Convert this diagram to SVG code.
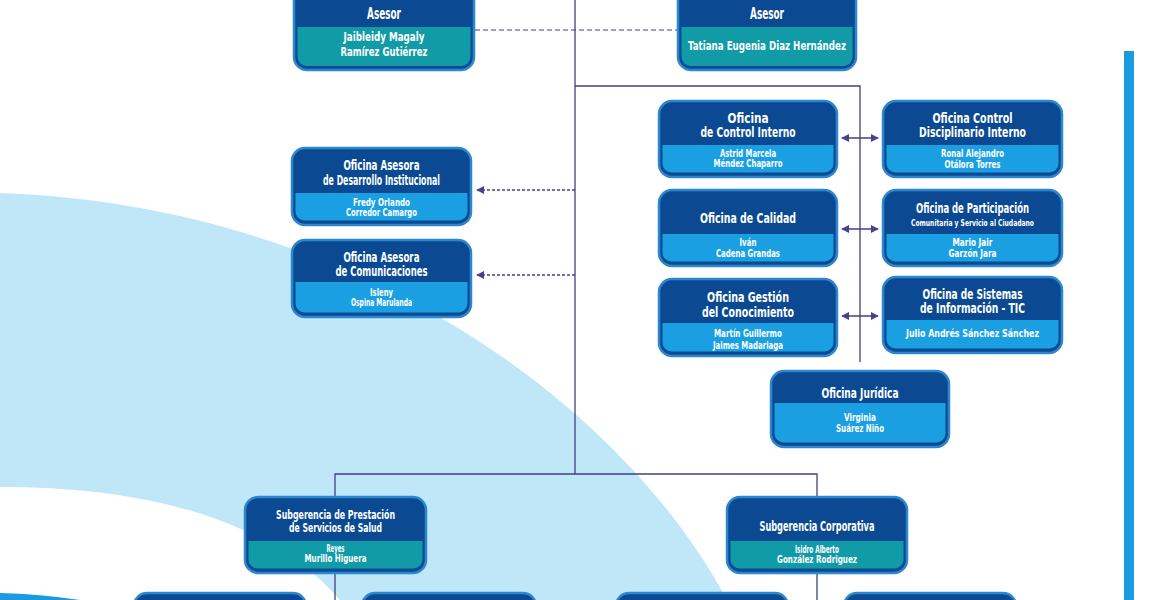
<svg xmlns="http://www.w3.org/2000/svg" width="1160" height="600" viewBox="0 0 1160 600">
<defs>
<style>
.box{fill:#0b4a92;stroke:#2b88cf;stroke-width:2.5}
.bl{fill:#1aa0e2}
.tl{fill:#109ba7}
text{font-family:"Liberation Sans Narrow","DejaVu Sans Condensed","Liberation Sans",sans-serif;font-weight:bold;fill:#ffffff;text-anchor:middle}
.h{font-size:14px}
.hs{font-size:12.5px}
.ha{font-size:15px}
.n{font-size:10.5px}
.na{font-size:11.5px}
.s{font-size:8.5px}
.c{fill:none;stroke:#3f4380;stroke-width:1.3}
.d{fill:none;stroke:#4a3f88;stroke-width:1.3;stroke-dasharray:3 2}
.d2{fill:none;stroke:#3f4380;stroke-width:1.2;stroke-dasharray:5 3}
</style>
<marker id="ah" viewBox="0 0 10 10" refX="9" refY="5" markerWidth="8" markerHeight="8" markerUnits="userSpaceOnUse" orient="auto-start-reverse">
<path d="M0,0 L10,5 L0,10 Z" fill="#4b3f8e"/>
</marker>
</defs>
<rect width="1160" height="600" fill="#ffffff"/>
<g id="background">
<path d="M0 193 C350 205 620 400 727 600 L340 600 C270 520 150 487 0 487 Z" fill="#c0e7f7"/>
<path d="M0 593 Q40 594 80 600 L0 600 Z" fill="#1a9be0"/>
<rect x="1124" y="51" width="10" height="549" fill="#1a9be0"/>
</g>
<g id="connectors">
<line class="c" x1="575" y1="0" x2="575" y2="474"/>
<line class="d2" x1="475" y1="30" x2="677" y2="30"/>
<polyline class="c" points="575,86 860,86 860,362"/>
<line class="c" x1="842" y1="138" x2="878" y2="138" marker-start="url(#ah)" marker-end="url(#ah)"/>
<line class="c" x1="842" y1="229" x2="878" y2="229" marker-start="url(#ah)" marker-end="url(#ah)"/>
<line class="c" x1="842" y1="316" x2="878" y2="316" marker-start="url(#ah)" marker-end="url(#ah)"/>
<line class="d" x1="575" y1="190" x2="477" y2="190" marker-end="url(#ah)"/>
<line class="d" x1="575" y1="275" x2="477" y2="275" marker-end="url(#ah)"/>
<polyline class="c" points="335,497 335,474 817,474 817,497"/>
<line class="c" x1="335" y1="573" x2="335" y2="600"/>
<line class="c" x1="817" y1="573" x2="817" y2="600"/>
</g>
<g id="asesor-1">
<rect class="box" x="294" y="-20" width="180" height="90" rx="13"/>
<path class="tl" d="M297.5 27 H470.5 V57 A9 9 0 0 1 461.5 66 H306.5 A9 9 0 0 1 297.5 57 Z"/>
<text class="ha" x="384" y="19.4" textLength="34" lengthAdjust="spacingAndGlyphs">Asesor</text>
<text class="na" x="384" y="41.1" textLength="81" lengthAdjust="spacingAndGlyphs">Jaibleidy Magaly</text>
<text class="na" x="384" y="56.1" textLength="87" lengthAdjust="spacingAndGlyphs">Ramírez Gutiérrez</text>
</g>
<g id="asesor-2">
<rect class="box" x="678" y="-20" width="178" height="90" rx="13"/>
<path class="tl" d="M681.5 27 H852.5 V57 A9 9 0 0 1 843.5 66 H690.5 A9 9 0 0 1 681.5 57 Z"/>
<text class="ha" x="767" y="19.4" textLength="34" lengthAdjust="spacingAndGlyphs">Asesor</text>
<text class="na" x="767" y="50.1" textLength="158" lengthAdjust="spacingAndGlyphs">Tatiana Eugenia Diaz Hernández</text>
</g>
<g id="control-interno">
<rect class="box" x="659" y="101" width="178" height="76" rx="13"/>
<path class="bl" d="M662.5 145 H833.5 V163.5 A9 9 0 0 1 824.5 172.5 H671.5 A9 9 0 0 1 662.5 163.5 Z"/>
<text class="h" x="748" y="123" textLength="41" lengthAdjust="spacingAndGlyphs">Oficina</text>
<text class="h" x="748" y="137" textLength="95" lengthAdjust="spacingAndGlyphs">de Control Interno</text>
<text class="n" x="748" y="156.8" textLength="56" lengthAdjust="spacingAndGlyphs">Astrid Marcela</text>
<text class="n" x="748" y="166.8" textLength="69" lengthAdjust="spacingAndGlyphs">Méndez Chaparro</text>
</g>
<g id="control-disciplinario">
<rect class="box" x="883" y="101" width="179" height="76" rx="13"/>
<path class="bl" d="M886.5 145 H1058.5 V163.5 A9 9 0 0 1 1049.5 172.5 H895.5 A9 9 0 0 1 886.5 163.5 Z"/>
<text class="h" x="972.5" y="123" textLength="80" lengthAdjust="spacingAndGlyphs">Oficina Control</text>
<text class="h" x="972.5" y="137" textLength="107" lengthAdjust="spacingAndGlyphs">Disciplinario Interno</text>
<text class="n" x="972.5" y="156.8" textLength="63" lengthAdjust="spacingAndGlyphs">Ronal Alejandro</text>
<text class="n" x="972.5" y="167.5" textLength="56" lengthAdjust="spacingAndGlyphs">Otálora Torres</text>
</g>
<g id="calidad">
<rect class="box" x="659" y="190" width="178" height="76" rx="13"/>
<path class="bl" d="M662.5 234 H833.5 V252.5 A9 9 0 0 1 824.5 261.5 H671.5 A9 9 0 0 1 662.5 252.5 Z"/>
<text class="h" x="748" y="223" textLength="96" lengthAdjust="spacingAndGlyphs">Oficina de Calidad</text>
<text class="n" x="748" y="245.8" textLength="17" lengthAdjust="spacingAndGlyphs">Iván</text>
<text class="n" x="748" y="256.8" textLength="64" lengthAdjust="spacingAndGlyphs">Cadena Grandas</text>
</g>
<g id="participacion">
<rect class="box" x="883" y="190" width="179" height="76" rx="13"/>
<path class="bl" d="M886.5 234 H1058.5 V252.5 A9 9 0 0 1 1049.5 261.5 H895.5 A9 9 0 0 1 886.5 252.5 Z"/>
<text class="h" x="972.5" y="213" textLength="113" lengthAdjust="spacingAndGlyphs">Oficina de Participación</text>
<text class="s" x="972.5" y="226" textLength="123" lengthAdjust="spacingAndGlyphs">Comunitaria y Servicio al Ciudadano</text>
<text class="n" x="972.5" y="245.8" textLength="40" lengthAdjust="spacingAndGlyphs">Mario Jair</text>
<text class="n" x="972.5" y="256.8" textLength="48" lengthAdjust="spacingAndGlyphs">Garzón Jara</text>
</g>
<g id="gestion-conocimiento">
<rect class="box" x="659" y="279" width="178" height="77" rx="13"/>
<path class="bl" d="M662.5 323 H833.5 V342.5 A9 9 0 0 1 824.5 351.5 H671.5 A9 9 0 0 1 662.5 342.5 Z"/>
<text class="h" x="748" y="302" textLength="82" lengthAdjust="spacingAndGlyphs">Oficina Gestión</text>
<text class="h" x="748" y="317" textLength="92" lengthAdjust="spacingAndGlyphs">del Conocimiento</text>
<text class="n" x="748" y="336.8" textLength="68" lengthAdjust="spacingAndGlyphs">Martín Guillermo</text>
<text class="n" x="748" y="348.8" textLength="70" lengthAdjust="spacingAndGlyphs">Jaimes Madariaga</text>
</g>
<g id="sistemas">
<rect class="box" x="883" y="277" width="179" height="76" rx="13"/>
<path class="bl" d="M886.5 320 H1058.5 V339.5 A9 9 0 0 1 1049.5 348.5 H895.5 A9 9 0 0 1 886.5 339.5 Z"/>
<text class="h" x="972.5" y="299" textLength="100" lengthAdjust="spacingAndGlyphs">Oficina de Sistemas</text>
<text class="h" x="972.5" y="313" textLength="105" lengthAdjust="spacingAndGlyphs">de Información - TIC</text>
<text class="n" x="972.5" y="336.8" textLength="133" lengthAdjust="spacingAndGlyphs">Julio Andrés Sánchez Sánchez</text>
</g>
<g id="juridica">
<rect class="box" x="771" y="371" width="178" height="76" rx="13"/>
<path class="bl" d="M774.5 403 H945.5 V433.5 A9 9 0 0 1 936.5 442.5 H783.5 A9 9 0 0 1 774.5 433.5 Z"/>
<text class="h" x="860" y="398" textLength="77" lengthAdjust="spacingAndGlyphs">Oficina Jurídica</text>
<text class="n" x="860" y="420.8" textLength="32" lengthAdjust="spacingAndGlyphs">Virginia</text>
<text class="n" x="860" y="431.8" textLength="48" lengthAdjust="spacingAndGlyphs">Suárez Niño</text>
</g>
<g id="desarrollo-institucional">
<rect class="box" x="292" y="148" width="179" height="77" rx="13"/>
<path class="bl" d="M295.5 193 H467.5 V211.5 A9 9 0 0 1 458.5 220.5 H304.5 A9 9 0 0 1 295.5 211.5 Z"/>
<text class="h" x="381.5" y="170" textLength="76" lengthAdjust="spacingAndGlyphs">Oficina Asesora</text>
<text class="h" x="381.5" y="185" textLength="117" lengthAdjust="spacingAndGlyphs">de Desarrollo Institucional</text>
<text class="n" x="381.5" y="205.6" textLength="57" lengthAdjust="spacingAndGlyphs">Fredy Orlando</text>
<text class="n" x="381.5" y="215.6" textLength="71" lengthAdjust="spacingAndGlyphs">Corredor Camargo</text>
</g>
<g id="comunicaciones">
<rect class="box" x="292" y="240" width="179" height="77" rx="13"/>
<path class="bl" d="M295.5 282 H467.5 V303.5 A9 9 0 0 1 458.5 312.5 H304.5 A9 9 0 0 1 295.5 303.5 Z"/>
<text class="h" x="381.5" y="262" textLength="76" lengthAdjust="spacingAndGlyphs">Oficina Asesora</text>
<text class="h" x="381.5" y="276" textLength="92" lengthAdjust="spacingAndGlyphs">de Comunicaciones</text>
<text class="n" x="381.5" y="295.6" textLength="23" lengthAdjust="spacingAndGlyphs">Isleny</text>
<text class="n" x="381.5" y="305.6" textLength="61" lengthAdjust="spacingAndGlyphs">Ospina Marulanda</text>
</g>
<g id="subgerencia-salud">
<rect class="box" x="245" y="497" width="181" height="76" rx="13"/>
<path class="tl" d="M248.5 541 H422.5 V559.5 A9 9 0 0 1 413.5 568.5 H257.5 A9 9 0 0 1 248.5 559.5 Z"/>
<text class="hs" x="335.5" y="519" textLength="119" lengthAdjust="spacingAndGlyphs">Subgerencia de Prestación</text>
<text class="hs" x="335.5" y="532" textLength="93" lengthAdjust="spacingAndGlyphs">de Servicios de Salud</text>
<text class="n" x="335.5" y="551.6" textLength="18" lengthAdjust="spacingAndGlyphs">Reyes</text>
<text class="n" x="335.5" y="561.6" textLength="62" lengthAdjust="spacingAndGlyphs">Murillo Higuera</text>
</g>
<g id="subgerencia-corporativa">
<rect class="box" x="727" y="497" width="180" height="76" rx="13"/>
<path class="tl" d="M730.5 541 H903.5 V559.5 A9 9 0 0 1 894.5 568.5 H739.5 A9 9 0 0 1 730.5 559.5 Z"/>
<text class="h" x="817" y="531" textLength="115" lengthAdjust="spacingAndGlyphs">Subgerencia Corporativa</text>
<text class="n" x="817" y="552.6" textLength="44" lengthAdjust="spacingAndGlyphs">Isidro Alberto</text>
<text class="n" x="817" y="562.6" textLength="80" lengthAdjust="spacingAndGlyphs">González Rodriguez</text>
</g>
<g id="salud-child-1"><rect class="box" x="134" y="593" width="172" height="40" rx="13"/></g>
<g id="salud-child-2"><rect class="box" x="362" y="593" width="174" height="40" rx="13"/></g>
<g id="corporativa-child-1"><rect class="box" x="616" y="593" width="172" height="40" rx="13"/></g>
<g id="corporativa-child-2"><rect class="box" x="844" y="593" width="172" height="40" rx="13"/></g>
</svg>
